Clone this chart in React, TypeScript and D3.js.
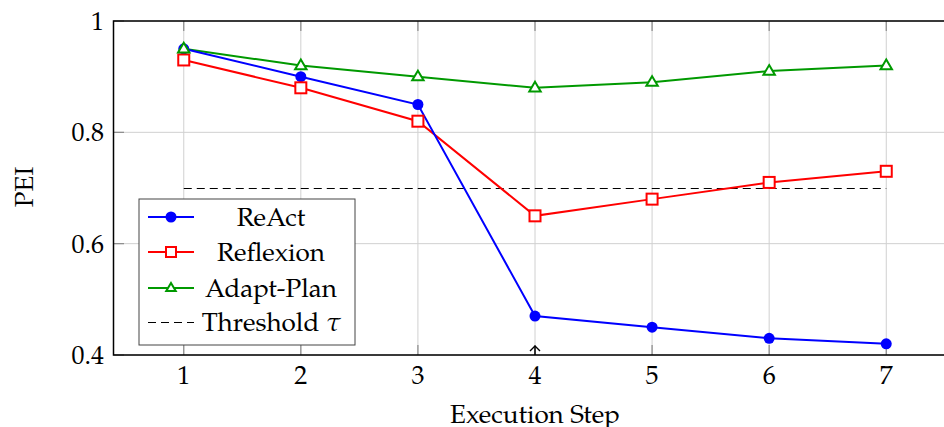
import React from "react";
import * as d3 from "d3";

const steps = [1, 2, 3, 4, 5, 6, 7];
const react = [0.95, 0.9, 0.85, 0.47, 0.45, 0.43, 0.42];
const reflexion = [0.93, 0.88, 0.82, 0.65, 0.68, 0.71, 0.73];
const adaptPlan = [0.95, 0.92, 0.9, 0.88, 0.89, 0.91, 0.92];
const threshold = 0.7;
const yTicks = [0.4, 0.6, 0.8, 1];
const yTickLabels = ["0.4", "0.6", "0.8", "1"];
const legendLabels = ["ReAct", "Reflexion", "Adapt-Plan", "Threshold τ"];

const W = 944;
const H = 427;
const FONT = "'TeX Gyre Pagella', 'Palatino Linotype', 'Liberation Serif', serif";
const FS = 26;

export default function App() {
  const x = d3.scaleLinear().domain([0.4, 7.6]).range([113.5, 956.5]);
  const y = d3.scaleLinear().domain([0.4, 1]).range([355, 21]);
  const line = d3
    .line<number>()
    .x((_, i) => x(steps[i]))
    .y((d) => y(d));

  const blue = "#0000ff";
  const red = "#ff0000";
  const green = "#009900";
  const grid = "#d0d0d0";
  const tickC = "#8a8a8a";

  const tri = (cx: number, cy: number, r: number) =>
    `M${cx},${cy - r} L${cx + r * 0.95},${cy + r * 0.6} L${cx - r * 0.95},${cy + r * 0.6} Z`;

  const legendX = 139;
  const legendY = 199;
  const legendW = 216;
  const legendH = 146;
  const rowYs = [217, 252, 288, 322];

  return (
    <svg width={W} height={H} style={{ position: "absolute", left: 0, top: 0 }} fontFamily={FONT}>
      <rect x={0} y={0} width={W} height={H} fill="#fff" />
      {/* grid */}
      {steps.map((s) => (
        <line key={"gx" + s} x1={x(s)} x2={x(s)} y1={21} y2={355} stroke={grid} strokeWidth={1} />
      ))}
      {yTicks.map((t) => (
        <line key={"gy" + t} x1={113.5} x2={956} y1={y(t)} y2={y(t)} stroke={grid} strokeWidth={1} />
      ))}
      {/* ticks */}
      {steps.map((s) => (
        <g key={"tx" + s}>
          <line x1={x(s)} x2={x(s)} y1={355} y2={345} stroke={tickC} strokeWidth={1.2} />
          <line x1={x(s)} x2={x(s)} y1={21} y2={31} stroke={tickC} strokeWidth={1.2} />
        </g>
      ))}
      {yTicks.map((t) => (
        <line key={"ty" + t} x1={113.5} x2={124} y1={y(t)} y2={y(t)} stroke={tickC} strokeWidth={1.2} />
      ))}
      {/* threshold */}
      <line
        x1={x(1)}
        x2={x(7)}
        y1={y(threshold) + 0.5}
        y2={y(threshold) + 0.5}
        stroke="#000"
        strokeWidth={1}
        strokeDasharray="8,5"
      />
      {/* series */}
      <path d={line(adaptPlan) || ""} fill="none" stroke={green} strokeWidth={2} />
      <path d={line(reflexion) || ""} fill="none" stroke={red} strokeWidth={2} />
      <path d={line(react) || ""} fill="none" stroke={blue} strokeWidth={2} />
      {react.map((v, i) => (
        <circle key={"c" + i} cx={x(steps[i])} cy={y(v)} r={5.5} fill={blue} />
      ))}
      {reflexion.map((v, i) => (
        <rect
          key={"s" + i}
          x={x(steps[i]) - 5.5}
          y={y(v) - 5.5}
          width={11}
          height={11}
          fill="#fff"
          stroke={red}
          strokeWidth={2}
        />
      ))}
      {adaptPlan.map((v, i) => (
        <path key={"t" + i} d={tri(x(steps[i]), y(v), 6)} fill="#fff" stroke={green} strokeWidth={2} />
      ))}
      {/* arrow at step 4 */}
      <line x1={x(4)} x2={x(4)} y1={355} y2={346} stroke="#000" strokeWidth={1.4} />
      <path
        d={`M${x(4) - 5},${351} L${x(4)},${346} L${x(4) + 5},${351}`}
        fill="none"
        stroke="#000"
        strokeWidth={1.4}
      />
      {/* axes box */}
      <path d="M956,21 L113.5,21 L113.5,355 L956,355" fill="none" stroke="#000" strokeWidth={1.5} />
      {/* tick labels */}
      {steps.map((s) => (
        <text key={"lx" + s} x={x(s)} y={384} textAnchor="middle" fontSize={FS} fill="#000">
          {s}
        </text>
      ))}
      {yTicks.map((t, i) => (
        <text key={"ly" + t} x={104} y={y(t) + 9} textAnchor="end" fontSize={FS} fill="#000">
          {yTickLabels[i]}
        </text>
      ))}
      {/* axis labels */}
      <text x={535} y={423} textAnchor="middle" fontSize={FS} fill="#000">
        Execution Step
      </text>
      <text
        x={0}
        y={0}
        transform={`translate(33,187) rotate(-90)`}
        textAnchor="middle"
        fontSize={FS}
        fill="#000"
      >
        PEI
      </text>
      {/* legend */}
      <rect x={legendX} y={legendY} width={legendW} height={legendH} fill="#fff" stroke="#444" strokeWidth={1} />
      <line x1={148} x2={194} y1={rowYs[0]} y2={rowYs[0]} stroke={blue} strokeWidth={2} />
      <circle cx={171} cy={rowYs[0]} r={5.5} fill={blue} />
      <line x1={148} x2={194} y1={rowYs[1]} y2={rowYs[1]} stroke={red} strokeWidth={2} />
      <rect x={166} y={rowYs[1] - 5} width={10} height={10} fill="#fff" stroke={red} strokeWidth={2} />
      <line x1={148} x2={194} y1={rowYs[2]} y2={rowYs[2]} stroke={green} strokeWidth={2} />
      <path d={tri(171, rowYs[2], 5)} fill="#fff" stroke={green} strokeWidth={2} />
      <line x1={148} x2={194} y1={rowYs[3] + 0.5} y2={rowYs[3] + 0.5} stroke="#000" strokeWidth={1} strokeDasharray="8,5" />
      {legendLabels.map((l, i) => (
        <text key={"lg" + i} x={271} y={rowYs[i] + 9} textAnchor="middle" fontSize={FS} fill="#000">
          {i === 3 ? (
            <>
              Threshold <tspan fontStyle="italic">τ</tspan>
            </>
          ) : (
            l
          )}
        </text>
      ))}
    </svg>
  );
}
